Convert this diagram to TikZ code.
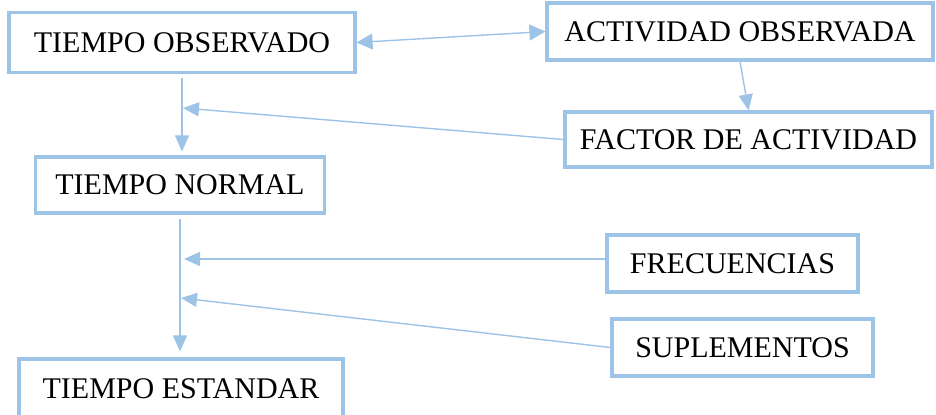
\documentclass[tikz,border=0pt]{standalone}
\usepackage{fontspec}
\setmainfont{Liberation Serif}
\usetikzlibrary{arrows.meta}
\definecolor{lineblue}{RGB}{157,195,230}

\begin{document}
\begin{tikzpicture}[x=0.5pt,y=-0.5pt,
    box/.style={draw=lineblue,line width=1.6pt,inner sep=0pt,font=\fontsize{15}{18}\selectfont},
    link/.style={draw=lineblue,line width=0.7pt,-{Triangle[length=8pt,width=7pt]}}]
    \useasboundingbox (0,0) rectangle (936,414);
    % Left column
    \node[box,minimum width=173pt,minimum height=30pt] (obs) at (182,42.5) {TIEMPO OBSERVADO};
    \node[box,minimum width=144.5pt,minimum height=28pt] (normal) at (180,185) {TIEMPO NORMAL};
    \node[box,minimum width=162pt,minimum height=30pt] (estandar) at (181,389) {TIEMPO ESTANDAR};
    % Right column
    \node[box,minimum width=193pt,minimum height=28.5pt] (act) at (740,31.5) {ACTIVIDAD OBSERVADA};
    \node[box,minimum width=183.5pt,minimum height=27.5pt] (fac) at (748.5,139.5) {FACTOR DE ACTIVIDAD};
    \node[box,minimum width=125.5pt,minimum height=28.5pt] (frec) at (732.5,263.5) {FRECUENCIAS};
    \node[box,minimum width=130.5pt,minimum height=28.5pt] (sup) at (742.5,347.5) {SUPLEMENTOS};
    % Points on the main line
    \coordinate (j1) at (183,108);
    \coordinate (j2) at (184,259);
    \coordinate (j3) at (181,298);
    % Connectors
    \draw[link,{Triangle[length=8pt,width=8pt]}-{Triangle[length=8pt,width=8pt]}] (obs.east) -- (act.west);
    \draw[link] (act.south) -- (fac.north);
    \draw[link,shorten <=2pt,shorten >=2pt] (obs.south) -- (obs.south |- normal.north);
    \draw[link] (fac.west) -- (j1);
    \draw[link,shorten <=2pt,shorten >=3pt] (normal.south) -- (normal.south |- estandar.north);
    \draw[link] (frec.west |- j2) -- (j2);
    \draw[link] (sup.west) -- (j3);
\end{tikzpicture}
\end{document}
